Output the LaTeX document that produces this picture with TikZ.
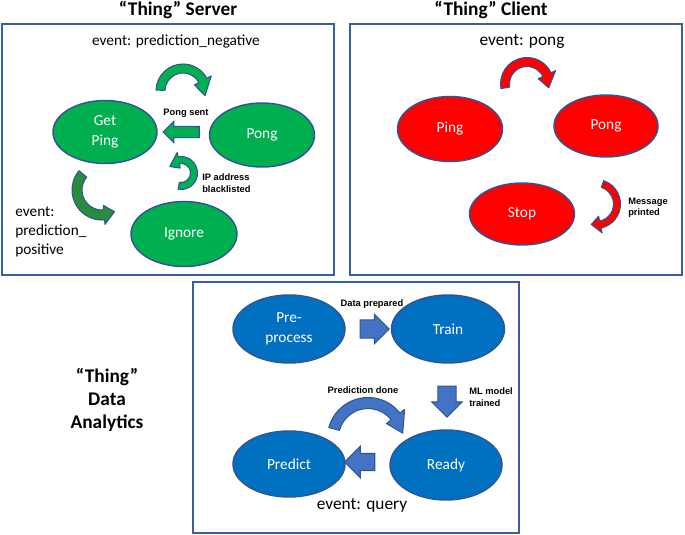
\documentclass[tikz,border=0pt]{standalone}
\usepackage{fontspec}
\setmainfont{Carlito}
\newfontfamily\arialfont{Liberation Sans}
\usetikzlibrary{shapes.geometric,shapes.arrows}
\definecolor{boxblue}{RGB}{59,94,160}
\definecolor{edgeblue}{RGB}{47,85,151}
\definecolor{sgreen}{RGB}{0,176,80}
\definecolor{dgreen}{RGB}{40,140,60}
\definecolor{cred}{RGB}{255,0,0}
\definecolor{ablue}{RGB}{0,112,192}
\definecolor{arrblue}{RGB}{68,114,196}
% #1 style, #2 centre, #3 start angle, #4 head base angle, #5 tip angle, #6 radius, #7 half band, #8 head extend
\newcommand{\arcarrow}[8]{%
  \begin{scope}[shift={(#2)}, y=0.75pt]
    \draw[#1] (#3:{#6+#7}) arc[start angle=#3, end angle=#4, radius={#6+#7}]
      -- (#4:{#6+#7+#8}) -- (#5:#6) -- (#4:{#6-#7-#8}) -- (#4:{#6-#7})
      arc[start angle=#4, end angle=#3, radius={#6-#7}] -- cycle;
  \end{scope}}
\tikzset{
  panel/.style={draw=boxblue, line width=1.3pt},
  state/.style={ellipse, draw=edgeblue, line width=1.1pt, text=white, align=center,
    inner sep=0pt, font=\fontsize{11.5}{15}\selectfont},
  paneltitle/.style={font=\bfseries\fontsize{14.5}{17}\selectfont, align=center, inner sep=0pt},
  evtext/.style={font=\fontsize{11.5}{14.3}\selectfont, inner sep=0pt},
  bigev/.style={font=\fontsize{13}{15}\selectfont, inner sep=0pt},
  lbl/.style={font=\arialfont\bfseries\fontsize{7}{8.5}\selectfont, inner sep=0pt},
  barrow/.style={single arrow, draw=edgeblue, line width=0.8pt, inner xsep=0pt},
  arcline/.style={draw=edgeblue, line width=0.8pt, line join=round}
}
\begin{document}
\begin{tikzpicture}[x=0.75pt, y=-0.75pt]
\useasboundingbox (0,0) rectangle (685,535);
% panels
\draw[panel] (2,24) rectangle (334,275);
\draw[panel] (350,24) rectangle (682,275);
\draw[panel] (193,282) rectangle (519,533);
% titles
\node[paneltitle] (tserver) at (178,10) {“Thing” Server};
\node[paneltitle] (tclient) at (491,10) {“Thing” Client};
\node[paneltitle] (tdata) at (107,400) {“Thing”\\Data\\Analytics};
% ---- Server ----
\node[evtext] (evneg) at (176,41) {event: prediction\_negative};
\node[evtext, anchor=west, align=left] (evpos) at (15,232) {event:\\prediction\_\\positive};
\node[state, fill=sgreen, minimum width=78pt, minimum height=47.25pt] (getping) at (105,132) {Get\\Ping};
\node[state, fill=sgreen, minimum width=78.75pt, minimum height=48pt] (spong) at (262,135) {Pong};
\node[state, fill=sgreen, minimum width=79.5pt, minimum height=48.75pt] (ignore) at (184,234) {Ignore};
\node[barrow, fill=sgreen, inner ysep=3.75pt, minimum height=27pt, minimum width=15pt, single arrow head extend=3.75pt, rotate=180] (pongsent) at (184,132) {};
\node[lbl] (lpongsent) at (186,113) {Pong sent};
\node[lbl, anchor=west, align=left] (lip) at (202,183) {IP address\\blacklisted};
\arcarrow{arcline, fill=sgreen}{183,91}{178}{28}{-12}{22.5}{4.5}{5}
\arcarrow{arcline, fill=sgreen}{181,173}{-100}{100}{150}{13}{3.5}{4.5}
\arcarrow{arcline, fill=dgreen}{102,190}{140}{275}{300}{25}{5}{4.5}
% ---- Client ----
\node[bigev] (evpong) at (522,42) {event: pong};
\node[state, fill=cred, minimum width=78.75pt, minimum height=48.75pt] (cping) at (450,129) {Ping};
\node[state, fill=cred, minimum width=78pt, minimum height=46.5pt] (cpong) at (606,126) {Pong};
\node[state, fill=cred, minimum width=78.75pt, minimum height=46.5pt] (stop) at (522,214) {Stop};
\node[lbl, anchor=west, align=left] (lmsg) at (628,208) {Message\\printed};
\arcarrow{arcline, fill=cred}{527,84}{190}{25}{-10}{22}{4.5}{5}
\arcarrow{arcline, fill=cred}{596,204}{72}{-78}{-103}{21}{3.5}{5}
% ---- Analytics ----
\node[state, fill=ablue, minimum width=84pt, minimum height=51pt] (prep) at (289,329) {Pre-\\process};
\node[state, fill=ablue, minimum width=84.75pt, minimum height=51pt] (train) at (448,329) {Train};
\node[state, fill=ablue, minimum width=84pt, minimum height=49.5pt] (predict) at (289,464) {Predict};
\node[state, fill=ablue, minimum width=84pt, minimum height=52.5pt] (ready) at (446,465) {Ready};
\node[barrow, fill=arrblue, inner ysep=6.4pt, minimum height=21.75pt, minimum width=21pt, single arrow head extend=4.1pt] (dataprep) at (370,329) {};
\node[barrow, fill=arrblue, inner ysep=6.4pt, minimum height=23.25pt, minimum width=21.75pt, single arrow head extend=4.5pt, rotate=-90] (trained) at (447,397) {};
\node[barrow, fill=arrblue, inner ysep=6pt, minimum height=22.5pt, minimum width=22.5pt, single arrow head extend=5.25pt, rotate=180] (query) at (364,462) {};
\node[lbl] (ldataprep) at (372,304) {Data prepared};
\node[lbl, anchor=west, align=left] (lml) at (469,397) {ML model\\trained};
\node[lbl] (lpred) at (363,390) {Prediction done};
\arcarrow{arcline, fill=arrblue}{368,438}{165}{38}{8}{35}{5.5}{6}
\node[bigev] (evquery) at (362,505) {event: query};
\end{tikzpicture}
\end{document}
